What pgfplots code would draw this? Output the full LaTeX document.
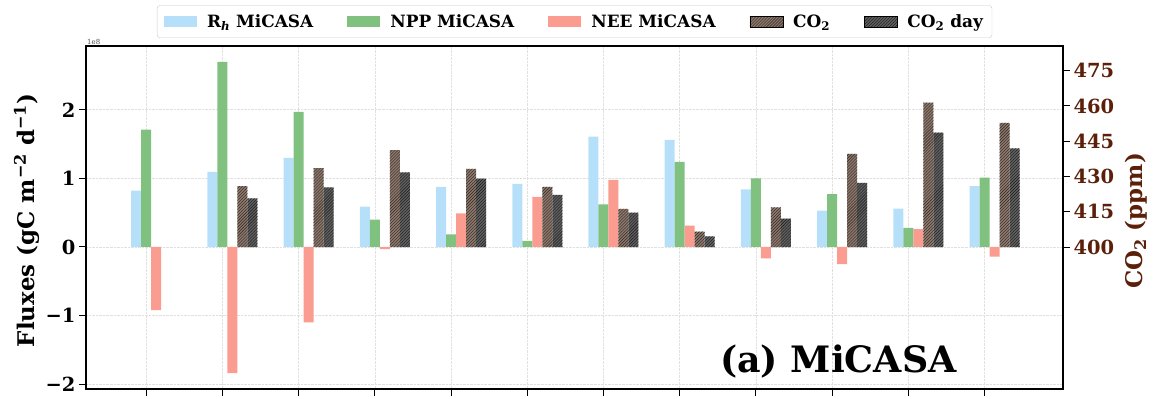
\documentclass[border=0pt]{standalone}
\usepackage{fontspec}
\setmainfont{DejaVu Serif}
\usepackage{pgfplots}
\usepackage{pgfplotstable}
\pgfplotsset{compat=1.18}
\usetikzlibrary{patterns}

\definecolor{rhcol}{RGB}{182,224,250}
\definecolor{nppcol}{RGB}{128,193,128}
\definecolor{neecol}{RGB}{250,156,143}
\definecolor{co2fill}{RGB}{140,120,108}
\definecolor{co2hatch}{RGB}{45,36,32}
\definecolor{co2dfill}{RGB}{95,95,95}
\definecolor{co2dhatch}{RGB}{25,25,25}
\definecolor{ppmcol}{RGB}{92,32,10}

% monthly fluxes (x1e8 gC m-2 d-1)
\pgfplotstableread{
m  rh     npp    nee
0  0.82   1.71   -0.92
1  1.095  2.70   -1.84
2  1.30   1.97   -1.10
3  0.59   0.40   -0.03
4  0.876  0.185  0.49
5  0.92   0.09   0.73
6  1.61   0.62   0.98
7  1.56   1.24   0.31
8  0.84   1.00   -0.165
9  0.53   0.77   -0.25
10 0.56   0.28   0.26
11 0.886  1.01   -0.14
}\flux

% monthly CO2 (ppm), all hours and daytime only
\pgfplotstableread{
m  co2    co2d
1  425.9  420.7
2  433.5  425.4
3  441.2  431.7
4  433.2  429.1
5  425.6  422.2
6  416.2  414.6
7  406.5  404.5
8  416.9  412.1
9  439.6  427.3
10 461.4  448.7
11 452.8  442.0
}\cotwo

\tikzset{
  co2bar/.style={fill=co2fill, postaction={pattern=north east lines, pattern color=co2hatch}},
  co2dbar/.style={fill=co2dfill, postaction={pattern=north east lines, pattern color=co2dhatch}},
}

\pgfplotsset{
  common/.style={
    at={(0,0)}, anchor=south west,
    scale only axis, width=977bp, height=343bp,
    xmin=-0.79, xmax=12.03,
    tick align=outside, major tick length=7bp,
    tick style={black, line width=1bp},
    axis line style={line width=1.3bp},
    ticklabel style={font=\bfseries\fontsize{19.5}{22}\selectfont},
    label style={font=\bfseries\fontsize{23}{26}\selectfont},
  },
}

\begin{document}
\begin{tikzpicture}
\useasboundingbox (-86bp,-10bp) rectangle (1067bp,389bp);

\begin{axis}[
  common,
  ymin=-2.07, ymax=2.93,
  xtick={0,...,11}, xticklabels={},
  ytick={-2,-1,0,1,2}, yticklabels={−2,−1,0,1,2},
  xtick pos=bottom, ytick pos=left,
  grid=major, grid style={densely dotted, black!12, line width=0.6bp},
  ylabel={Fluxes (gC m\textsuperscript{−2} d\textsuperscript{−1})},
  % rotated label: yshift moves it left, xshift moves it down
  ylabel style={at={(axis description cs:0,0.5)}, anchor=center, yshift=59bp, xshift=-3bp},
  legend columns=5,
  legend image code/.code={\fill[#1, draw=none, sharp corners] (0bp,-5.5bp) rectangle (33bp,5.5bp);},
  legend style={at={(0.5,1)}, anchor=south, yshift=8bp, draw=black!20,
    rounded corners=3bp, font=\bfseries\fontsize{17}{19}\selectfont,
    inner xsep=7bp, inner ysep=7bp,
    /tikz/every odd column/.append style={column sep=8bp},
    /tikz/every even column/.append style={column sep=32bp}},
]
\addplot[ybar, bar width=10bp, bar shift=-10bp, fill=rhcol, draw=none, forget plot] table[x=m, y=rh]{\flux};
\addplot[ybar, bar width=10bp, bar shift=0bp, fill=nppcol, draw=none, forget plot] table[x=m, y=npp]{\flux};
\addplot[ybar, bar width=10bp, bar shift=10bp, fill=neecol, draw=none, forget plot] table[x=m, y=nee]{\flux};
\addlegendimage{fill=rhcol}
\addlegendentry{R\textsubscript{\textit{h}} MiCASA}
\addlegendimage{fill=nppcol}
\addlegendentry{NPP MiCASA}
\addlegendimage{fill=neecol}
\addlegendentry{NEE MiCASA}
\addlegendimage{co2bar}
\addlegendentry{CO\textsubscript{2}}
\addlegendimage{co2dbar}
\addlegendentry{CO\textsubscript{2} day}
\end{axis}

\begin{axis}[
  common,
  ymin=-60.4, ymax=85.5,
  axis x line=none, axis y line*=right,
  ytick={0,15,...,75}, yticklabels={400,415,430,445,460,475},
  yticklabel style={text=ppmcol},
  ylabel={CO\textsubscript{2} (ppm)},
  ylabel style={text=ppmcol, at={(axis description cs:1,0.5)}, anchor=center, yshift=-73bp, xshift=-3.5bp},
]
\addplot[ybar, bar width=10bp, bar shift=20bp, draw=none, co2bar] table[x=m, y expr=\thisrow{co2}-400]{\cotwo};
\addplot[ybar, bar width=10bp, bar shift=30bp, draw=none, co2dbar] table[x=m, y expr=\thisrow{co2d}-400]{\cotwo};
\end{axis}

\node[anchor=south west, font=\fontsize{7}{8}\selectfont, text=black!70, inner sep=1bp] at (0bp,343bp) {1e8};
\node[anchor=base west, font=\bfseries\fontsize{36.5}{40}\selectfont, inner sep=0pt] at (634bp,17bp) {(a) MiCASA};
\end{tikzpicture}
\end{document}
